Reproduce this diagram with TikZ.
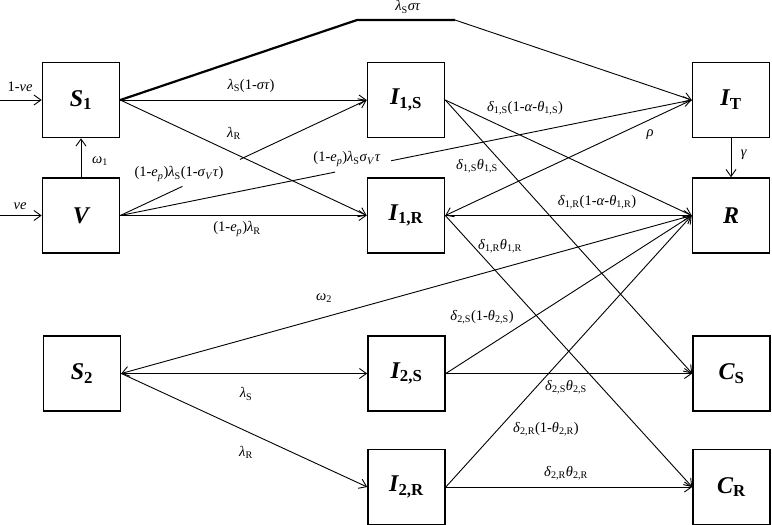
\documentclass[tikz,border=0pt]{standalone}
\usepackage{fontspec}
\setmainfont{Liberation Serif}
\usetikzlibrary{arrows.meta,calc}
\newcommand{\sbx}[1]{\textsubscript{#1}}
\newcommand{\bx}[2]{\fontsize{24}{28}\selectfont\bfseries\itshape #1\textsubscript{\upshape #2}}
\tikzset{
  box/.style={draw, line width=1.6pt, minimum width=77pt, minimum height=75pt, inner sep=0pt},
  edge/.style={line width=0.9pt, -{Straight Barb[length=7pt,width=10pt]}},
  plain/.style={line width=0.9pt},
  thickln/.style={line width=2.2pt},
  lbl/.style={font=\fontsize{14.5}{16}\selectfont, inner sep=0pt}
}
\begin{document}
\begin{tikzpicture}[x=1pt,y=-1pt]
\useasboundingbox (0,0) rectangle (772,525);
% boxes
\node[box] (S1) at (81,100) {\bx{S}{1}};
\node[box] (V) at (81,215.5) {\fontsize{24}{28}\selectfont\bfseries\itshape V};
\node[box] (I1S) at (406,100) {\bx{I}{1,S}};
\node[box] (I1R) at (406,215.5) {\bx{I}{1,R}};
\node[box] (IT) at (731,100) {\bx{I}{T}};
\node[box] (R) at (731,215.5) {\fontsize{24}{28}\selectfont\bfseries\itshape R};
\node[box] (S2) at (82,373.5) {\bx{S}{2}};
\node[box] (I2S) at (406.5,373.5) {\bx{I}{2,S}};
\node[box] (I2R) at (406.5,487) {\bx{I}{2,R}};
\node[box] (CS) at (731.5,373.5) {\bx{C}{S}};
\node[box] (CR) at (731.5,487) {\bx{C}{R}};
% free ends and bends
\coordinate (in1) at (0,100);
\coordinate (in2) at (0,215.5);
\coordinate (k1) at (357,20);
\coordinate (k2) at (455,20);
% inflows
\draw[edge] (in1) -- (S1.west);
\draw[edge] (in2) -- (V.west);
\draw[edge] (V.north) -- (S1.south);
% S1 flows
\draw[thickln] (S1.east) -- (k1) -- (k2);
\draw[edge] (k2) -- (IT.west);
\draw[edge] (S1.east) -- (I1S.west);
\draw[edge] (S1.east) -- (I1R.west);
% V flows (broken by labels)
\draw[plain] (V.east) -- ($(V.east)!0.252!(I1S.west)$);
\draw[edge] ($(V.east)!0.486!(I1S.west)$) -- (I1S.west);
\draw[plain] (V.east) -- ($(V.east)!0.376!(IT.west)$);
\draw[edge] ($(V.east)!0.474!(IT.west)$) -- (IT.west);
\draw[edge] (V.east) -- (I1R.west);
% I1 flows
\draw[edge] (I1S.east) -- (R.west);
\draw[edge] (I1S.east) -- (CS.west);
\draw[edge] (IT.west) -- (I1R.east);
\draw[edge] (I1R.east) -- (R.west);
\draw[edge] (I1R.east) -- (CR.west);
\draw[edge] (IT.south) -- (R.north);
% second-stage flows
\draw[edge] (R.west) -- (S2.east);
\draw[edge] (S2.east) -- (I2S.west);
\draw[edge] (S2.east) -- (I2R.west);
\draw[edge] (I2S.east) -- (R.west);
\draw[edge] (I2S.east) -- (CS.west);
\draw[edge] (I2R.east) -- (R.west);
\draw[edge] (I2R.east) -- (CR.west);
% labels
\node[lbl] (l1) at (20,87) {1-\textit{ve}};
\node[lbl] (l2) at (20,206) {\textit{ve}};
\node[lbl] (l3) at (100,161) {\textit{ω}\sbx{1}};
\node[lbl] (l4) at (408,7) {\textit{λ}\sbx{S}\textit{στ}};
\node[lbl] (l5) at (251,86) {\textit{λ}\sbx{S}(1-\textit{στ})};
\node[lbl] (l6) at (234,133) {\textit{λ}\sbx{R}};
\node[lbl] (l7) at (179,174) {(1-\textit{e}\sbx{\textit{p}})\textit{λ}\sbx{S}(1-\textit{σ}\sbx{\textit{V}}\textit{τ})};
\node[lbl] (l8) at (347,159) {(1-\textit{e}\sbx{\textit{p}})\textit{λ}\sbx{S}\textit{σ}\sbx{\textit{V}}\textit{τ}};
\node[lbl] (l9) at (237,229) {(1-\textit{e}\sbx{\textit{p}})\textit{λ}\sbx{R}};
\node[lbl] (l10) at (525,108) {\textit{δ}\sbx{1,S}(1-\textit{α}-\textit{θ}\sbx{1,S})};
\node[lbl] (l11) at (650,135) {\textit{ρ}};
\node[lbl] (l12) at (477,166) {\textit{δ}\sbx{1,S}\textit{θ}\sbx{1,S}};
\node[lbl] (l13) at (744,155) {\textit{γ}};
\node[lbl] (l14) at (597,202) {\textit{δ}\sbx{1,R}(1-\textit{α}-\textit{θ}\sbx{1,R})};
\node[lbl] (l15) at (500,246) {\textit{δ}\sbx{1,R}\textit{θ}\sbx{1,R}};
\node[lbl] (l16) at (324,298) {\textit{ω}\sbx{2}};
\node[lbl] (l17) at (246,394) {\textit{λ}\sbx{S}};
\node[lbl] (l18) at (246,452) {\textit{λ}\sbx{R}};
\node[lbl] (l19) at (482,317) {\textit{δ}\sbx{2,S}(1-\textit{θ}\sbx{2,S})};
\node[lbl] (l20) at (566,387) {\textit{δ}\sbx{2,S}\textit{θ}\sbx{2,S}};
\node[lbl] (l21) at (546,429) {\textit{δ}\sbx{2,R}(1-\textit{θ}\sbx{2,R})};
\node[lbl] (l22) at (566,473) {\textit{δ}\sbx{2,R}\textit{θ}\sbx{2,R}};
\end{tikzpicture}
\end{document}
